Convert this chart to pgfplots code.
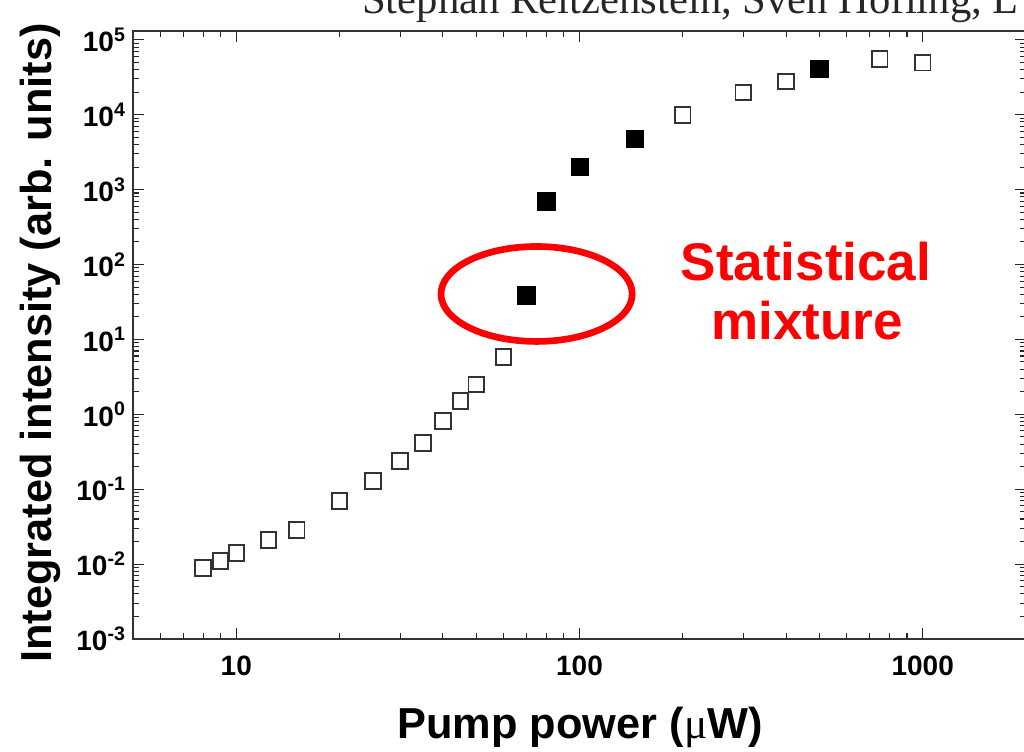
\documentclass[border=0pt]{standalone}
\usepackage{fontspec}
\setmainfont{Liberation Sans}
\newfontfamily\timesfont{Liberation Serif}
\usepackage{pgfplots}
\pgfplotsset{compat=1.18}
\begin{document}
\begin{tikzpicture}
\useasboundingbox (-99.75pt,-84.75pt) rectangle (668.25pt,479.25pt);
\begin{axis}[
  at={(0pt,0pt)}, anchor=south west,
  scale only axis,
  width=669.75pt, height=456pt,
  xmode=log, ymode=log,
  xmin=5, xmax=2000,
  ymin=1e-3, ymax=1.31e5,
  xtick={10,100,1000},
  xticklabels={10,100,1000},
  minor xtick={5,6,7,8,9,20,30,40,50,60,70,80,90,200,300,400,500,600,700,800,900,2000},
  ytick={1e-3,1e-2,1e-1,1,1e1,1e2,1e3,1e4,1e5},
  yticklabels={10\textsuperscript{-3},10\textsuperscript{-2},10\textsuperscript{-1},10\textsuperscript{0},10\textsuperscript{1},10\textsuperscript{2},10\textsuperscript{3},10\textsuperscript{4},10\textsuperscript{5}},
  minor ytick={2e-3,3e-3,4e-3,5e-3,6e-3,7e-3,8e-3,9e-3,
               2e-2,3e-2,4e-2,5e-2,6e-2,7e-2,8e-2,9e-2,
               0.2,0.3,0.4,0.5,0.6,0.7,0.8,0.9,
               2,3,4,5,6,7,8,9,
               20,30,40,50,60,70,80,90,
               200,300,400,500,600,700,800,900,
               2000,3000,4000,5000,6000,7000,8000,9000,
               2e4,3e4,4e4,5e4,6e4,7e4,8e4,9e4},
  tick align=inside,
  tick pos=both,
  major tick length=8.25pt,
  minor tick length=4.5pt,
  every tick/.style={line width=0.8pt, black!85},
  axis line style={line width=1.1pt, black!80},
  xticklabel style={font=\fontsize{21}{22}\selectfont\bfseries, yshift=-9pt},
  yticklabel style={font=\fontsize{21}{22}\selectfont\bfseries, xshift=-2pt},
  xlabel={\textbf{Pump power (}{\timesfont μ}\textbf{W)}},
  ylabel={\textbf{Integrated intensity (arb. units)}},
  xlabel style={font=\fontsize{32.5}{34}\selectfont, at={(axis description cs:0.5006,-0.1447)}, anchor=center},
  ylabel style={font=\fontsize{32.5}{34}\selectfont, at={(axis description cs:-0.104,0.487)}, anchor=center},
]
\addplot[only marks, mark=square, mark size=5.8pt, mark options={draw=black!80, fill=white, line width=1.4pt}]
coordinates {
(8,0.0089) (9,0.011) (10,0.0141) (12.4,0.021) (15,0.0285) (20,0.0697) (25,0.128) (30,0.238) (35,0.414) (40,0.81) (45,1.5) (50,2.5) (60,5.8)
(200,9910) (300,19700) (400,27600) (750,55500) (1000,49400)
};
\addplot[only marks, mark=square*, mark size=6.5pt, mark options={draw=black, fill=black, line width=0.5pt}]
coordinates {
(70,38.8) (80,698) (100,2004) (145,4745) (500,40700)
};
\draw[red, line width=5pt] (axis cs:75,40.4) ellipse [x radius=71.7pt, y radius=35.6pt];
\end{axis}
\node[anchor=base, inner sep=0pt, text=red, font=\fontsize{39.75}{40}\selectfont\bfseries] at (504.75pt,268.5pt) {Statistical};
\node[anchor=base, inner sep=0pt, text=red, font=\fontsize{39.75}{40}\selectfont\bfseries] at (505.5pt,224.25pt) {mixture};
\node[anchor=base west, inner sep=0pt, text=black!85, font=\fontsize{32}{34}\selectfont\timesfont] at (171.75pt,469pt) {Stephan Reitzenstein, Sven Höfling, L};
\end{tikzpicture}
\end{document}
